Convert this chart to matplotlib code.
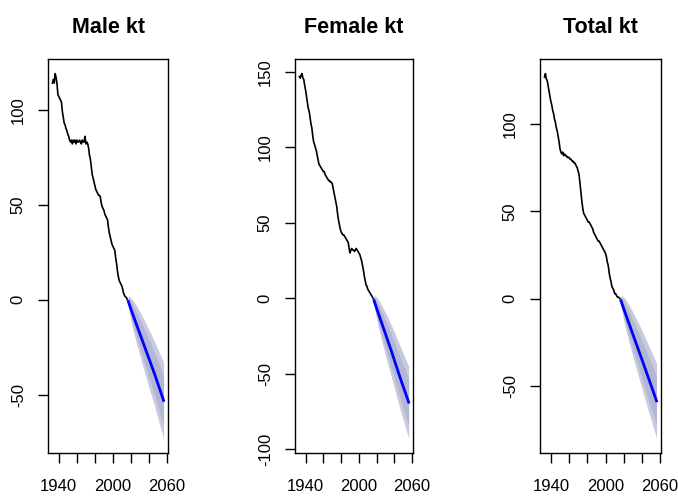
import numpy as np
import matplotlib
matplotlib.use("Agg")
import matplotlib.pyplot as plt

plt.rcParams['font.family'] = ['Liberation Sans', 'DejaVu Sans']

# observed kt, 1933-2016
years = list(range(1933, 2017))

male_kt = [114, 116, 114, 119, 117, 114, 108, 107, 106, 105,
           104, 99, 96, 93, 92, 90, 89, 87, 86, 84,
           83, 84, 82, 84, 83, 84, 82, 84, 83, 83,
           84, 83, 82, 84, 83, 83, 86, 82, 83, 82,
           80, 76, 74, 70, 66, 64, 62, 60, 58, 57,
           56, 55, 55, 54, 51, 49, 48, 47, 45, 44,
           43, 42, 38, 35, 33, 31, 29, 28, 27, 26,
           22, 19, 15, 12, 10, 9, 8, 7, 5, 3,
           2, 1.5, 1, 0]

female_kt = [147, 146, 148, 149, 146, 145, 141, 138, 134, 130,
             126, 124, 120, 116, 113, 108, 104, 102, 100, 98,
             95, 92, 89, 88, 87, 86, 85, 84, 84, 82,
             81, 80, 79, 78, 78, 77, 77, 76, 73, 70,
             67, 64, 61, 56, 52, 49, 46, 44, 43, 42,
             42, 41, 40, 39, 38, 37, 33, 30, 32, 33,
             32, 32, 31, 32, 33, 32, 31, 30, 29, 27,
             25, 22, 19, 15, 12, 9, 8, 6, 5, 4,
             3, 2, 1, 0]

total_kt = [127, 129, 126, 125, 122, 119, 116, 113, 111, 108,
            106, 103, 101, 98, 96, 93, 90, 86, 84, 83,
            84, 82, 83, 82, 82, 81, 81, 81, 80, 80,
            79, 79, 78, 78, 77, 76, 75, 73, 71, 66,
            61, 56, 52, 49, 48, 47, 46, 45, 44, 44,
            43, 42, 41, 40, 38, 37, 36, 35, 34, 33,
            33, 32, 31, 30, 29, 28, 27, 26, 24, 21,
            19, 15, 12, 10, 7, 6, 5, 3, 3, 2,
            1, 1, 0.5, 0]

# forecasts (mean and 80% / 95% limits)
fc_years = [2017, 2021, 2026, 2031, 2036, 2041, 2046, 2051, 2056]

male_mean = [-1, -6.5, -13, -19.5, -26, -32.5, -39, -46, -53]
male_hi95 = [2.2, 0.5, -3, -7.5, -12, -17, -22, -27.5, -33]
male_lo95 = [-4.2, -13.5, -23, -31.5, -40, -48, -56, -64.5, -73]
male_hi80 = [1.1, -1.9, -6.5, -11.6, -16.8, -22.3, -27.8, -33.9, -40]
male_lo80 = [-3.1, -11.1, -19.5, -27.4, -35.2, -42.7, -50.2, -58.1, -66]

female_mean = [-1.5, -8.5, -17, -25.5, -34, -43, -52, -60.5, -69]
female_hi95 = [2.3, 0, -5, -10.8, -17, -24, -31.2, -38.1, -45]
female_lo95 = [-5.3, -17, -29, -40.2, -51, -62, -72.8, -82.9, -93]
female_hi80 = [1, -2.9, -9.2, -15.9, -22.9, -30.6, -38.4, -45.8, -53.3]
female_lo80 = [-4, -14.1, -24.8, -35.1, -45.1, -55.4, -65.6, -75.2, -84.7]

total_mean = [-1.2, -7.2, -14.5, -21.8, -29, -36.3, -43.7, -51, -58.5]
total_hi95 = [2.2, 0.4, -3.7, -8.6, -13.8, -19.3, -25.1, -30.9, -37]
total_lo95 = [-4.6, -14.8, -25.3, -35, -44.2, -53.3, -62.3, -71.1, -80]
total_hi80 = [1, -2.2, -7.4, -13.2, -19.1, -25.2, -31.5, -37.9, -44.4]
total_lo80 = [-3.4, -12.2, -21.6, -30.4, -38.9, -47.4, -55.9, -64.1, -72.6]

panels = [
    ("Male kt", male_kt, male_mean, male_lo80, male_hi80, male_lo95, male_hi95,
     [100, 50, 0, -50]),
    ("Female kt", female_kt, female_mean, female_lo80, female_hi80, female_lo95, female_hi95,
     [150, 100, 50, 0, -50, -100]),
    ("Total kt", total_kt, total_mean, total_lo80, total_hi80, total_lo95, total_hi95,
     [100, 50, 0, -50]),
]

W, H = 678, 496
fig = plt.figure(figsize=(W / 100, H / 100), dpi=100)

# axes boxes in pixels: left, right
boxes = [(48, 168), (295, 413), (540, 661)]
top_px, bot_px = 59, 453

xticks = [1940, 1960, 1980, 2000, 2020, 2040, 2060]
xlabels = ["1940", "", "", "2000", "", "", "2060"]

for (title, kt, mean, lo80, hi80, lo95, hi95, yt), (l, r) in zip(panels, boxes):
    ax = fig.add_axes([l / W, (H - bot_px) / H, (r - l) / W, (bot_px - top_px) / H])

    ax.plot(years, kt, color='black', lw=1.2)
    ax.fill_between(fc_years, lo95, hi95, color='#c8cbe0', lw=0)
    ax.fill_between(fc_years, lo80, hi80, color='#b3b7d3', lw=0)
    ax.plot(fc_years, mean, color='#0000ff', lw=2)

    # R-style 4% axis extension
    x0, x1 = years[0], fc_years[-1]
    ext = 0.04 * (x1 - x0)
    ax.set_xlim(x0 - ext, x1 + ext)
    ymax = max(max(kt), max(hi95))
    ymin = min(min(kt), min(lo95))
    ext = 0.04 * (ymax - ymin)
    ax.set_ylim(ymin - ext, ymax + ext)

    ax.set_xticks(xticks)
    ax.set_xticklabels(xlabels)
    ax.set_yticks(yt)
    ax.set_yticklabels([str(v) for v in yt], rotation=90, va='center')
    ax.tick_params(axis='both', direction='out', length=7, width=1, labelsize=12)
    ax.tick_params(axis='x', pad=12)
    ax.tick_params(axis='y', pad=9)
    for s in ax.spines.values():
        s.set_linewidth(1)

    ax.set_title(title, fontsize=15.5, fontweight='bold', pad=19)

fig.savefig("out.png", dpi=100)
